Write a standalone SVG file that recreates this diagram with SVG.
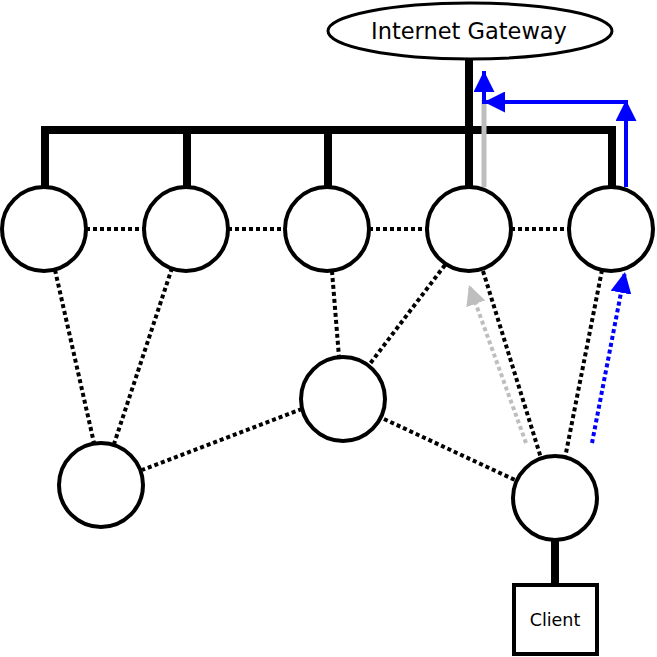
<svg xmlns="http://www.w3.org/2000/svg" width="657" height="657" viewBox="0 0 657 657">
<style>
.node{fill:#fff;stroke:#000;stroke-width:4}
.bus{stroke:#000;stroke-width:8;fill:none;stroke-linecap:butt}
.dot{stroke:#000;stroke-width:4;stroke-dasharray:4 3;fill:none}
.label{font-family:"DejaVu Sans",sans-serif;fill:#000;text-anchor:middle}
</style>
<defs>
<marker id="ab" viewBox="0 0 10 10" refX="10" refY="5" markerUnits="userSpaceOnUse" markerWidth="21" markerHeight="21" orient="auto"><path d="M0,0 L10,5 L0,10 z" fill="#00f"/></marker>
<marker id="ag" viewBox="0 0 10 10" refX="10" refY="5" markerUnits="userSpaceOnUse" markerWidth="20" markerHeight="20" orient="auto"><path d="M0,0 L10,5 L0,10 z" fill="#bebebe"/></marker>
</defs>
<g id="connectors">
<path class="bus" d="M469,58 V130 M45,187 V130 H612 V187 M187,130 V187 M328,130 V187 M469,130 V187 M555,540 V583"/>
<line class="dot" x1="86" y1="229" x2="144" y2="229"/>
<line class="dot" x1="228" y1="229" x2="285" y2="229"/>
<line class="dot" x1="369" y1="229" x2="427" y2="229"/>
<line class="dot" x1="511" y1="229" x2="569" y2="229"/>
<line class="dot" x1="55" y1="270" x2="94" y2="443"/>
<line class="dot" x1="172" y1="268" x2="114" y2="444"/>
<line class="dot" x1="332" y1="271" x2="339" y2="357"/>
<line class="dot" x1="445" y1="265" x2="369" y2="365"/>
<line class="dot" x1="302" y1="409" x2="142" y2="470"/>
<line class="dot" x1="384" y1="419" x2="515" y2="480"/>
<line class="dot" x1="483" y1="271" x2="541" y2="458"/>
<line class="dot" x1="602" y1="270" x2="565" y2="458"/>
<line x1="484" y1="187" x2="484" y2="100" stroke="#bebebe" stroke-width="5"/>
<line x1="526" y1="443" x2="469" y2="285" stroke="#bebebe" stroke-width="4" stroke-dasharray="4 3" marker-end="url(#ag)"/>
<line x1="592" y1="443" x2="625" y2="272" stroke="#00f" stroke-width="4" stroke-dasharray="4 3" marker-end="url(#ab)"/>
<line x1="626" y1="187" x2="626" y2="100" stroke="#00f" stroke-width="4" marker-end="url(#ab)"/>
<line x1="626" y1="102" x2="484" y2="102" stroke="#00f" stroke-width="4" marker-end="url(#ab)"/>
<line x1="484" y1="104" x2="484" y2="71" stroke="#00f" stroke-width="4" marker-end="url(#ab)"/>
</g>
<g id="gateway">
<ellipse cx="470" cy="31" rx="142" ry="28" fill="#fff" stroke="#000" stroke-width="3"/>
<text class="label" x="469" y="39" font-size="22.5">Internet Gateway</text>
</g>
<g id="n1"><circle class="node" cx="44" cy="229" r="42"/></g>
<g id="n2"><circle class="node" cx="186" cy="229" r="42"/></g>
<g id="n3"><circle class="node" cx="327" cy="229" r="42"/></g>
<g id="n4"><circle class="node" cx="469" cy="229" r="42"/></g>
<g id="n5"><circle class="node" cx="611" cy="229" r="42"/></g>
<g id="n6"><circle class="node" cx="343" cy="399" r="42"/></g>
<g id="n7"><circle class="node" cx="101" cy="485" r="42"/></g>
<g id="n8"><circle class="node" cx="555" cy="498" r="42"/></g>
<g id="client">
<rect x="514" y="585" width="83" height="69" fill="#fff" stroke="#000" stroke-width="4"/>
<text class="label" x="555" y="626" font-size="17.5">Client</text>
</g>
</svg>
